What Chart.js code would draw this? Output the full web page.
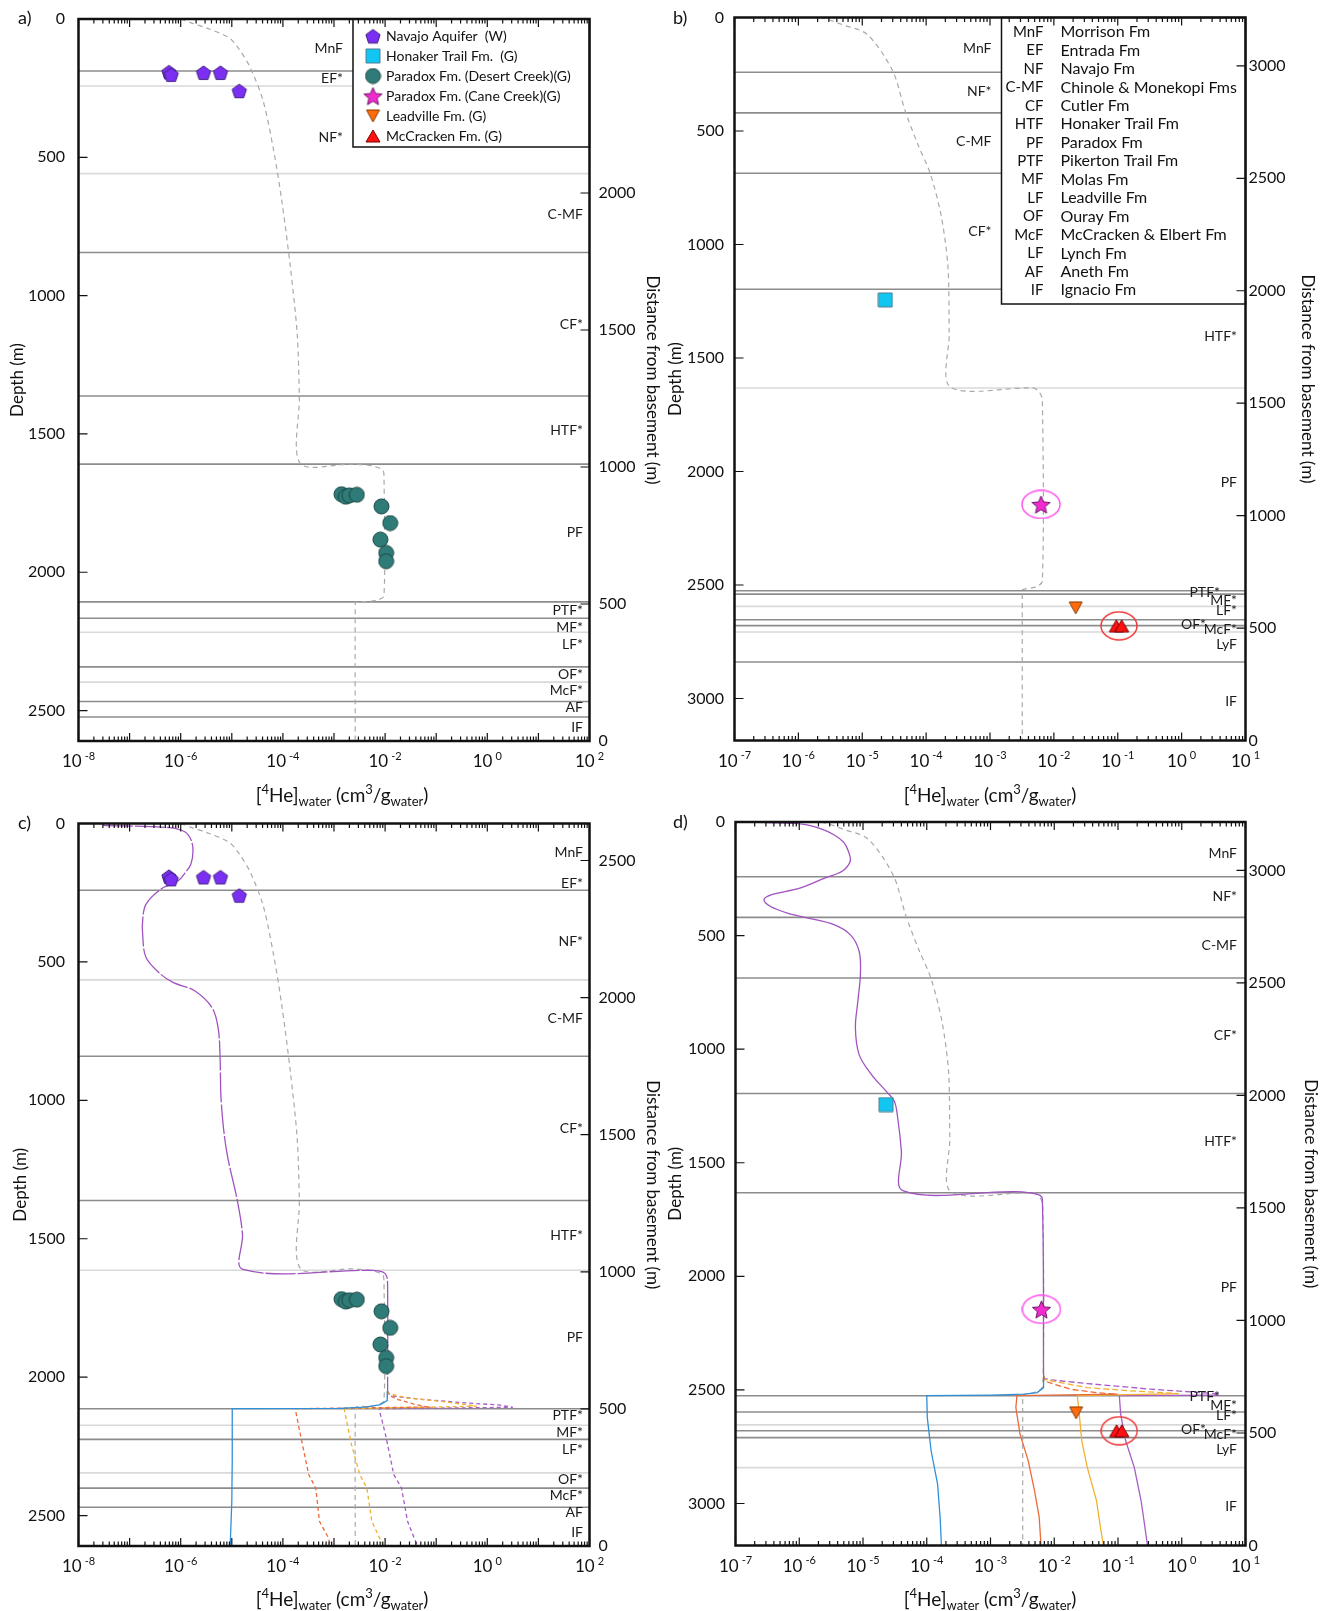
<!DOCTYPE html>
<html>
<head>
<meta charset="utf-8">
<title>4He depth profiles</title>
<script src="https://cdn.jsdelivr.net/npm/chart.js@4.4.1/dist/chart.umd.min.js"></script>
<style>
  html, body { margin: 0; padding: 0; background: #fff; }
  body { position: relative; width: 1328px; height: 1611px; overflow: hidden; font-family: Lato, "Liberation Sans", sans-serif; color: #111; }
  .panel { position: absolute; }
  .tag { position: absolute; font-size: 18px; line-height: 20px; transform: translateY(-50%); }
  .xtitle { position: absolute; font-size: 19px; line-height: 1; white-space: nowrap; transform: translate(-50%, -50%); }
  .xtitle sub, .xtitle sup { font-size: 13px; line-height: 0; }
</style>
</head>
<body>
<canvas id="ca" class="panel" width="664" height="800" style="left:0;top:0"></canvas>
<canvas id="cb" class="panel" width="664" height="800" style="left:664px;top:0"></canvas>
<canvas id="cc" class="panel" width="664" height="811" style="left:0;top:800px"></canvas>
<canvas id="cd" class="panel" width="664" height="811" style="left:664px;top:800px"></canvas>

<div class="tag" style="left:18px;top:17px">a)</div>
<div class="tag" style="left:673px;top:17px">b)</div>
<div class="tag" style="left:18px;top:822px">c)</div>
<div class="tag" style="left:673px;top:821px">d)</div>

<div class="xtitle" style="left:342px;top:794px">[<sup>4</sup>He]<sub>water</sub> (cm<sup>3</sup>/g<sub>water</sub>)</div>
<div class="xtitle" style="left:990px;top:794px">[<sup>4</sup>He]<sub>water</sub> (cm<sup>3</sup>/g<sub>water</sub>)</div>
<div class="xtitle" style="left:342px;top:1598px">[<sup>4</sup>He]<sub>water</sub> (cm<sup>3</sup>/g<sub>water</sub>)</div>
<div class="xtitle" style="left:990px;top:1598px">[<sup>4</sup>He]<sub>water</sub> (cm<sup>3</sup>/g<sub>water</sub>)</div>

<script>
// Depth profiles of [4He]water, four panels, log x / depth y

// ---- axes ----
const AC_DEPTH_MAX = 2610;
const AC_BASEMENT = 2635;
const BD_DEPTH_MAX = 3185;
const BD_BASEMENT = 3215;
const AC_X_EXP = [-8, -6, -4, -2, 0, 2];
const BD_X_EXP = [-7, -6, -5, -4, -3, -2, -1, 0, 1];
const AC_LEFT_TICKS = [0, 500, 1000, 1500, 2000, 2500];
const BD_LEFT_TICKS = [0, 500, 1000, 1500, 2000, 2500, 3000];
const A_RIGHT_TICKS = [0, 500, 1000, 1500, 2000];
const C_RIGHT_TICKS = [0, 500, 1000, 1500, 2000, 2500];
const BD_RIGHT_TICKS = [0, 500, 1000, 1500, 2000, 2500, 3000];

// ---- formation contacts (depth, m) ----
const A_CONTACTS = [188, 844, 1363, 1609, 2107, 2166, 2342, 2467, 2523];
const A_FAINT = [242, 559, 2217, 2397];
const C_CONTACTS = [241, 841, 1362, 2114, 2225, 2401, 2470];
const C_FAINT = [565, 1614, 2174, 2346];
const B_CONTACTS = [241, 420, 686, 1197, 2525, 2540, 2653, 2679, 2839];
const B_FAINT = [1632, 2594, 2707];
const D_CONTACTS = [241, 420, 687, 1195, 1632, 2526, 2597, 2680, 2710];
const D_FAINT = [2654, 2842];

const AC_LABELS = ['MnF', 'EF*', 'NF*', 'C-MF', 'CF*', 'HTF*', 'PF', 'PTF*', 'MF*', 'LF*', 'OF*', 'McF*', 'AF', 'IF'];
const AC_LABEL_DEPTHS = [106, 215, 427, 705, 1103, 1488, 1857, 2139, 2201, 2262, 2369, 2429, 2489, 2562];
const BD_LABELS = ['MnF', 'NF*', 'C-MF', 'CF*', 'HTF*', 'PF', 'PTF*', 'MF*', 'LF*', 'OF*', 'McF*', 'LyF', 'IF'];
const BD_LABEL_DEPTHS = [137, 326, 545, 941, 1405, 2048, 2531, 2567, 2613, 2676, 2695, 2762, 3015];

const FORMATION_ABBR = ['MnF', 'EF', 'NF', 'C-MF', 'CF', 'HTF', 'PF', 'PTF', 'MF', 'LF', 'OF', 'McF', 'LF', 'AF', 'IF'];
const FORMATION_NAMES = ['Morrison Fm', 'Entrada Fm', 'Navajo Fm', 'Chinole & Monekopi Fms', 'Cutler Fm',
  'Honaker Trail Fm', 'Paradox Fm', 'Pikerton Trail Fm', 'Molas Fm', 'Leadville Fm', 'Ouray Fm',
  'McCracken & Elbert Fm', 'Lynch Fm', 'Aneth Fm', 'Ignacio Fm'];
const SAMPLE_NAMES = ['Navajo Aquifer  (W)', 'Honaker Trail Fm.  (G)', 'Paradox Fm. (Desert Creek)(G)',
  'Paradox Fm. (Cane Creek)(G)', 'Leadville Fm. (G)', 'McCracken Fm. (G)'];

// ---- samples ----
const NAVAJO_HE = [5.9e-7, 6.5e-7, 2.8e-6, 6.0e-6, 1.4e-5];
const NAVAJO_DEPTH = [191, 200, 193, 193, 259];
const DESERT_CREEK_HE = [1.4e-3, 1.7e-3, 2.0e-3, 2.8e-3, 8.5e-3, 1.26e-2, 8.1e-3, 1.05e-2, 1.05e-2];
const DESERT_CREEK_DEPTH = [1718, 1727, 1722, 1720, 1762, 1822, 1882, 1930, 1960];
const HONAKER_HE = [2.3e-5];
const HONAKER_DEPTH = [1244];
const CANE_CREEK_HE = [6.3e-3];
const CANE_CREEK_DEPTH = [2145];
const LEADVILLE_HE = [2.2e-2];
const LEADVILLE_DEPTH = [2601];
const MCCRACKEN_HE = [0.095, 0.115];
const MCCRACKEN_DEPTH = [2680, 2680];

// ---- modelled profiles ----
const MODEL_AC_DEPTH = [0, 14, 35, 68, 110, 176, 296, 476, 656, 897, 1136, 1365, 1607, 1609, 1616, 1630, 1650, 2085, 2100, 2106, 2108, 2130, 2610];
const MODEL_AC_HE = [1.0e-6, 1.6e-6, 3.5e-6, 8.9e-6, 1.4e-5, 2.3e-5, 4.1e-5, 6.6e-5, 9.5e-5, 1.4e-4, 1.9e-4, 2.1e-4, 2.2e-4, 2.2e-3, 5.6e-3, 8.9e-3, 9.5e-3, 9.5e-3, 7.1e-3, 4.5e-3, 2.7e-3, 2.6e-3, 2.6e-3];
const MODEL_BD_DEPTH = [0, 10, 31, 75, 236, 412, 558, 690, 881, 1101, 1393, 1628, 1632, 1650, 1686, 2484, 2508, 2518, 2522, 2540, 3185];
const MODEL_BD_HE = [2.2e-6, 3.0e-6, 4.8e-6, 1.2e-5, 3.0e-5, 4.7e-5, 7.4e-5, 1.17e-4, 1.74e-4, 2.2e-4, 2.3e-4, 2.4e-4, 4.7e-3, 5.9e-3, 6.6e-3, 6.6e-3, 5.2e-3, 3.5e-3, 3.2e-3, 3.2e-3, 3.2e-3];

const C_MAIN_DEPTH = [7, 15, 30, 60, 99, 147, 180, 207, 237, 291, 350, 400, 484, 545, 575, 605, 665, 738, 846, 1003, 1183, 1364, 1484, 1611, 1614, 1620, 1635, 1680, 2051];
const C_MAIN_HE = [3.0e-8, 6.0e-7, 1.2e-6, 1.6e-6, 1.74e-6, 1.58e-6, 1.2e-6, 8.9e-7, 4.1e-7, 2.1e-7, 1.8e-7, 1.8e-7, 2.1e-7, 4.1e-7, 7.2e-7, 1.9e-6, 4.1e-6, 5.4e-6, 5.9e-6, 6.2e-6, 7.9e-6, 1.29e-5, 1.62e-5, 1.66e-5, 5.8e-3, 8.9e-3, 1.07e-2, 1.12e-2, 1.12e-2];
const C_BLUE_DEPTH = [2051, 2085, 2100, 2108, 2113, 2114, 2300, 2450, 2610];
const C_BLUE_HE = [1.12e-2, 1.1e-2, 7.9e-3, 4.0e-3, 1.26e-3, 1.02e-5, 1.02e-5, 1.0e-5, 9.3e-6];
const C_ORANGE_DEPTH = [2051, 2063, 2081, 2099, 2108, 2114, 2208, 2352, 2401, 2521, 2581, 2610];
const C_ORANGE_HE = [1.12e-2, 1.12e-2, 1.8e-2, 3.9e-2, 6.9e-2, 1.74e-4, 2.2e-4, 3.2e-4, 4.4e-4, 5.2e-4, 7.8e-4, 8.5e-4];
const C_YELLOW_DEPTH = [2051, 2057, 2075, 2089, 2105, 2114, 2244, 2352, 2401, 2521, 2581, 2610];
const C_YELLOW_HE = [1.12e-2, 1.12e-2, 2.6e-2, 0.148, 0.62, 1.58e-3, 2.2e-3, 3.2e-3, 4.4e-3, 5.5e-3, 7.8e-3, 9.3e-3];
const C_PURPLE_DEPTH = [2051, 2060, 2069, 2081, 2093, 2101, 2109, 2114, 2208, 2352, 2401, 2521, 2581, 2610];
const C_PURPLE_HE = [1.12e-2, 1.2e-2, 1.48e-2, 5.8e-2, 0.38, 1.78, 3.16, 7.6e-3, 1.02e-2, 1.48e-2, 2.1e-2, 2.75e-2, 3.7e-2, 4.3e-2];

const D_MAIN_DEPTH = [0, 3, 10, 30, 56, 90, 129, 173, 217, 247, 291, 320, 342, 371, 401, 423, 452, 496, 569, 672, 789, 907, 1024, 1111, 1185, 1229, 1302, 1449, 1624, 1627, 1640, 1660, 2438];
const D_MAIN_HE = [1.0e-7, 3.2e-7, 1.17e-6, 2.2e-6, 3.5e-6, 5.0e-6, 5.9e-6, 6.3e-6, 4.7e-6, 2.5e-6, 1.02e-6, 3.7e-7, 2.8e-7, 3.5e-7, 6.5e-7, 1.38e-6, 3.5e-6, 6.3e-6, 8.7e-6, 9.1e-6, 8.3e-6, 7.6e-6, 8.7e-6, 1.35e-5, 2.3e-5, 3.1e-5, 3.5e-5, 4.0e-5, 4.3e-5, 2.5e-3, 5.6e-3, 6.5e-3, 6.8e-3];
const D_BLUE_DEPTH = [2438, 2490, 2512, 2519, 2523, 2525, 2622, 2768, 2915, 3062, 3185];
const D_BLUE_HE = [6.8e-3, 6.8e-3, 5.4e-3, 3.4e-3, 1.0e-3, 1.0e-4, 1.02e-4, 1.17e-4, 1.48e-4, 1.62e-4, 1.7e-4];
const D_ORANGE_DEPTH = [2438, 2460, 2475, 2497, 2512, 2519, 2525, 2577, 2694, 2811, 2943, 3060, 3185];
const D_ORANGE_HE = [6.8e-3, 6.9e-3, 1.0e-2, 1.8e-2, 4.6e-2, 9.8e-2, 2.6e-3, 2.5e-3, 2.9e-3, 3.9e-3, 4.9e-3, 5.8e-3, 6.2e-3];
const D_YELLOW_DEPTH = [2438, 2455, 2468, 2490, 2504, 2516, 2525, 2622, 2724, 2841, 2987, 3090, 3185];
const D_YELLOW_HE = [6.8e-3, 7.2e-3, 1.26e-2, 3.3e-2, 0.155, 0.89, 2.3e-2, 2.5e-2, 2.7e-2, 3.3e-2, 4.6e-2, 5.2e-2, 5.9e-2];
const D_PURPLE_DEPTH = [2438, 2450, 2456, 2472, 2497, 2516, 2523, 2525, 2606, 2724, 2841, 2987, 3090, 3185];
const D_PURPLE_HE = [6.8e-3, 7.1e-3, 8.9e-3, 3.3e-2, 0.33, 3.3, 3.8, 0.105, 0.11, 0.132, 0.18, 0.23, 0.26, 0.29];
const D_TAIL_BASE = 2524;   // Paradox base: tails above it are dashed

const COLORS = {
  model: '#a9a9a9',
  main: '#a052c0',
  blue: '#2f8fd8',
  orange: '#ec6a3a',
  yellow: '#f2b02e',
  purple: '#a75cc6',
  contact: '#8c8c8c',
  faint: '#d9d9d9',
};

Chart.defaults.font.family = 'Lato, "Liberation Sans", sans-serif';
Chart.defaults.color = '#111';

// marker glyphs drawn once on small canvases, used as pointStyle
function shape(kind, w, h, fill, stroke) {
  const c = document.createElement('canvas');
  c.width = w; c.height = h;
  const g = c.getContext('2d');
  const cx = w / 2, cy = h / 2, r = Math.min(w, h) / 2 - 1;
  g.beginPath();
  if (kind === 'pentagon' || kind === 'star') {
    const n = kind === 'star' ? 10 : 5;
    for (let i = 0; i < n; i++) {
      const rr = kind === 'star' && i % 2 ? r * 0.45 : r;
      const t = -Math.PI / 2 + i * 2 * Math.PI / n;
      g.lineTo(cx + rr * Math.cos(t), cy + 1 + rr * Math.sin(t));
    }
  } else if (kind === 'circle') {
    g.arc(cx, cy, r, 0, 2 * Math.PI);
  } else if (kind === 'square') {
    g.rect(1, 1, w - 2, h - 2);
  } else if (kind === 'up') {
    g.moveTo(cx, 1); g.lineTo(w - 1, h - 1); g.lineTo(1, h - 1);
  } else if (kind === 'down') {
    g.moveTo(1, 1); g.lineTo(w - 1, 1); g.lineTo(cx, h - 1);
  } else if (kind === 'ring') {
    g.ellipse(cx, cy, w / 2 - 1, h / 2 - 1, 0, 0, 2 * Math.PI);
  }
  g.closePath();
  if (fill) { g.fillStyle = fill; g.fill(); }
  g.lineWidth = kind === 'ring' ? 1.5 : 1;
  g.strokeStyle = stroke;
  g.stroke();
  return c;
}

const MARK = {
  navajo: shape('pentagon', 18, 17, '#7b2ff2', '#40207e'),
  honaker: shape('square', 16, 16, '#12c6f2', '#4f7f90'),
  desert: shape('circle', 17, 17, '#2f7b77', '#1b4644'),
  cane: shape('star', 21, 21, '#f22bd0', '#6d1466'),
  leadville: shape('down', 15, 14, '#ff6b0d', '#8a3900'),
  mccracken: shape('up', 16, 14, '#ff1111', '#7a0000'),
  caneRing: shape('ring', 40, 30, null, '#ff55ee'),
  mcRing: shape('ring', 38, 30, null, '#f23a3a'),
};
const SAMPLE_MARKS = [MARK.navajo, MARK.honaker, MARK.desert, MARK.cane, MARK.leadville, MARK.mccracken];

const pts = (he, depth) => he.map((v, i) => ({ x: v, y: depth[i] }));

function markers(label, he, depth, img) {
  return { label, data: pts(he, depth), pointStyle: img, pointRadius: 9, showLine: false };
}

function curve(label, he, depth, color, opts = {}) {
  return {
    label,
    data: pts(he, depth),
    showLine: true,
    pointRadius: 0,
    borderColor: color,
    borderWidth: opts.width || 1.3,
    borderDash: opts.dash || [],
    tension: opts.tension || 0,
    segment: opts.segment,
  };
}

const modelAC = () => curve('model', MODEL_AC_HE, MODEL_AC_DEPTH, COLORS.model, { dash: [5, 4], width: 1.2, tension: 0.3 });
const modelBD = () => curve('model', MODEL_BD_HE, MODEL_BD_DEPTH, COLORS.model, { dash: [5, 4], width: 1.2, tension: 0.3 });
const mcCenter = [Math.sqrt(MCCRACKEN_HE[0] * MCCRACKEN_HE[1])];
const dTail = { borderDash: ctx => (ctx.p1.parsed.y <= D_TAIL_BASE ? [6, 3] : undefined) };

const bdSamples = () => [
  markers('Honaker Trail', HONAKER_HE, HONAKER_DEPTH, MARK.honaker),
  markers('Cane Creek', CANE_CREEK_HE, CANE_CREEK_DEPTH, MARK.cane),
  markers('Leadville', LEADVILLE_HE, LEADVILLE_DEPTH, MARK.leadville),
  markers('McCracken', MCCRACKEN_HE, MCCRACKEN_DEPTH, MARK.mccracken),
  markers('Cane Creek ring', CANE_CREEK_HE, CANE_CREEK_DEPTH, MARK.caneRing),
  markers('McCracken ring', mcCenter, [MCCRACKEN_DEPTH[0]], MARK.mcRing),
];

const PANELS = {
  ca: {
    size: [664, 800], area: { left: 78.5, right: 589.5, top: 19, bottom: 741 },
    xMin: 1e-8, xMax: 1e2, xExp: AC_X_EXP, depthMax: AC_DEPTH_MAX, basement: AC_BASEMENT,
    leftTicks: AC_LEFT_TICKS, rightTicks: A_RIGHT_TICKS, contacts: A_CONTACTS, faint: A_FAINT,
    labels: AC_LABELS, labelDepths: AC_LABEL_DEPTHS, labelInset: 6.5, nudge: {},
    tickPad: [13.5, 9], titlePad: [7, 1],
    legend: { kind: 'samples', width: 236.5, height: 128 },
    datasets: [
      markers('Navajo Aquifer', NAVAJO_HE, NAVAJO_DEPTH, MARK.navajo),
      markers('Desert Creek', DESERT_CREEK_HE, DESERT_CREEK_DEPTH, MARK.desert),
      modelAC(),
    ],
  },
  cb: {
    size: [664, 800], area: { left: 70.5, right: 581.5, top: 17.5, bottom: 740.5 },
    xMin: 1e-7, xMax: 1e1, xExp: BD_X_EXP, depthMax: BD_DEPTH_MAX, basement: BD_BASEMENT,
    leftTicks: BD_LEFT_TICKS, rightTicks: BD_RIGHT_TICKS, contacts: B_CONTACTS, faint: B_FAINT,
    labels: BD_LABELS, labelDepths: BD_LABEL_DEPTHS, labelInset: 8.5, nudge: { 'PTF*': -17, 'OF*': -31 },
    tickPad: [10.5, 3], titlePad: [1.5, 10],
    legend: { kind: 'formations', width: 244, height: 286.5 },
    datasets: [...bdSamples(), modelBD()],
  },
  cc: {
    size: [664, 811], area: { left: 78.5, right: 589.5, top: 23.5, bottom: 746 },
    xMin: 1e-8, xMax: 1e2, xExp: AC_X_EXP, depthMax: AC_DEPTH_MAX, basement: AC_BASEMENT,
    leftTicks: AC_LEFT_TICKS, rightTicks: C_RIGHT_TICKS, contacts: C_CONTACTS, faint: C_FAINT,
    labels: AC_LABELS, labelDepths: AC_LABEL_DEPTHS, labelInset: 6.5, nudge: {},
    tickPad: [13.5, 9], titlePad: [10, 1],
    legend: null,
    datasets: [
      markers('Navajo Aquifer', NAVAJO_HE, NAVAJO_DEPTH, MARK.navajo),
      markers('Desert Creek', DESERT_CREEK_HE, DESERT_CREEK_DEPTH, MARK.desert),
      curve('model c', C_MAIN_HE, C_MAIN_DEPTH, COLORS.main, { dash: [30, 2], tension: 0.35 }),
      curve('scenario 1', C_BLUE_HE, C_BLUE_DEPTH, COLORS.blue),
      curve('scenario 2', C_ORANGE_HE, C_ORANGE_DEPTH, COLORS.orange, { dash: [4, 3] }),
      curve('scenario 3', C_YELLOW_HE, C_YELLOW_DEPTH, COLORS.yellow, { dash: [4, 3] }),
      curve('scenario 4', C_PURPLE_HE, C_PURPLE_DEPTH, COLORS.purple, { dash: [4, 3] }),
      modelAC(),
    ],
  },
  cd: {
    size: [664, 811], area: { left: 71.5, right: 581.5, top: 22, bottom: 745.5 },
    xMin: 1e-7, xMax: 1e1, xExp: BD_X_EXP, depthMax: BD_DEPTH_MAX, basement: BD_BASEMENT,
    leftTicks: BD_LEFT_TICKS, rightTicks: BD_RIGHT_TICKS, contacts: D_CONTACTS, faint: D_FAINT,
    labels: BD_LABELS, labelDepths: BD_LABEL_DEPTHS, labelInset: 8.5, nudge: { 'PTF*': -17, 'OF*': -31 },
    tickPad: [10.5, 3], titlePad: [1.5, 7],
    legend: null,
    datasets: [
      ...bdSamples(),
      curve('model d', D_MAIN_HE, D_MAIN_DEPTH, COLORS.main, { tension: 0.35 }),
      curve('scenario 1', D_BLUE_HE, D_BLUE_DEPTH, COLORS.blue),
      curve('scenario 2', D_ORANGE_HE, D_ORANGE_DEPTH, COLORS.orange, { segment: dTail }),
      curve('scenario 3', D_YELLOW_HE, D_YELLOW_DEPTH, COLORS.yellow, { segment: dTail }),
      curve('scenario 4', D_PURPLE_HE, D_PURPLE_DEPTH, COLORS.purple, { segment: dTail }),
      modelBD(),
    ],
  },
};

function legendBox(chart, p) {
  const a = chart.chartArea;
  return { l: a.right - p.legend.width, t: a.top, r: a.right, b: a.top + p.legend.height };
}

function drawLegend(chart, p) {
  const ctx = chart.ctx;
  const box = legendBox(chart, p);
  ctx.save();
  ctx.fillStyle = '#fff';
  ctx.fillRect(box.l, box.t, box.r - box.l, box.b - box.t);
  ctx.lineWidth = 1.5;
  ctx.strokeStyle = '#111';
  ctx.strokeRect(box.l, box.t, box.r - box.l, box.b - box.t);
  ctx.fillStyle = '#111';
  ctx.textBaseline = 'middle';
  if (p.legend.kind === 'samples') {
    ctx.font = '14px Lato';
    ctx.textAlign = 'left';
    SAMPLE_NAMES.forEach((name, i) => {
      const yy = box.t + 17 + i * 20;
      const img = SAMPLE_MARKS[i];
      ctx.drawImage(img, box.l + 20 - img.width / 2, yy - img.height / 2);
      ctx.fillText(name, box.l + 33, yy);
    });
  } else {
    FORMATION_ABBR.forEach((ab, i) => {
      const yy = box.t + 14.5 + i * 18.45;
      ctx.font = '15px Lato';
      ctx.textAlign = 'right';
      ctx.fillText(ab, box.l + 42, yy);
      ctx.font = '16px Lato';
      ctx.textAlign = 'left';
      ctx.fillText(FORMATION_NAMES[i], box.l + 59, yy);
    });
  }
  ctx.restore();
}

function drawFormationLabels(chart, p) {
  const { ctx, chartArea: a, scales: { y } } = chart;
  const box = p.legend ? legendBox(chart, p) : null;
  ctx.save();
  ctx.font = '14px Lato';
  ctx.fillStyle = '#1b1b1b';
  ctx.textAlign = 'right';
  ctx.textBaseline = 'middle';
  p.labels.forEach((name, i) => {
    const py = y.getPixelForValue(p.labelDepths[i]);
    let px = a.right - p.labelInset;
    if (box && py < box.b) px = box.l - 10;
    px += p.nudge[name] || 0;
    ctx.fillText(name, px, py);
  });
  ctx.restore();
}

function drawFrame(chart) {
  const { ctx, chartArea: a, scales: { x, y, y2 } } = chart;
  ctx.save();
  ctx.strokeStyle = '#111';
  ctx.lineWidth = 1.2;
  ctx.beginPath();
  const e0 = Math.round(Math.log10(x.min)), e1 = Math.round(Math.log10(x.max));
  for (let e = e0; e <= e1; e++) {
    for (let k = 1; k <= 9; k++) {
      if (e === e1 && k > 1) break;
      const px = x.getPixelForValue(k * Math.pow(10, e));
      const len = k === 1 ? 8 : 4.5;
      ctx.moveTo(px, a.bottom); ctx.lineTo(px, a.bottom - len);
      ctx.moveTo(px, a.top); ctx.lineTo(px, a.top + len);
    }
  }
  y.ticks.forEach(t => {
    const py = y.getPixelForValue(t.value);
    ctx.moveTo(a.left, py); ctx.lineTo(a.left + 9, py);
  });
  y2.ticks.forEach(t => {
    const py = y2.getPixelForValue(t.value);
    ctx.moveTo(a.right - 9, py); ctx.lineTo(a.right, py);
  });
  ctx.stroke();
  ctx.lineWidth = 2.5;
  ctx.strokeRect(a.left, a.top, a.right - a.left, a.bottom - a.top);
  ctx.restore();
}

function drawXLabels(chart, exps) {
  const { ctx, chartArea: a, scales: { x } } = chart;
  ctx.save();
  ctx.fillStyle = '#111';
  ctx.textBaseline = 'middle';
  ctx.textAlign = 'left';
  exps.forEach(e => {
    const px = x.getPixelForValue(Math.pow(10, e));
    const sup = String(e);
    ctx.font = '17px Lato';
    const w1 = ctx.measureText('10').width;
    ctx.font = '11px Lato';
    const w2 = ctx.measureText(sup).width;
    const left = px - (w1 + 3 + w2) / 2;
    ctx.font = '17px Lato';
    ctx.fillText('10', left, a.bottom + 21);
    ctx.font = '11px Lato';
    ctx.fillText(sup, left + w1 + 3, a.bottom + 15);
  });
  ctx.restore();
}

const profilePlugin = {
  id: 'profile',
  beforeDatasetsDraw(chart) {
    const p = PANELS[chart.canvas.id];
    const { ctx, chartArea: a, scales: { y } } = chart;
    ctx.save();
    ctx.lineWidth = 1.6;
    [[p.faint, COLORS.faint], [p.contacts, COLORS.contact]].forEach(([list, color]) => {
      ctx.strokeStyle = color;
      list.forEach(d => {
        const py = y.getPixelForValue(d);
        ctx.beginPath();
        ctx.moveTo(a.left, py);
        ctx.lineTo(a.right, py);
        ctx.stroke();
      });
    });
    ctx.restore();
  },
  afterDatasetsDraw(chart) {
    const p = PANELS[chart.canvas.id];
    if (p.legend) drawLegend(chart, p);
    drawFormationLabels(chart, p);
  },
  afterDraw(chart) {
    const p = PANELS[chart.canvas.id];
    drawFrame(chart);
    drawXLabels(chart, p.xExp);
  },
};

// fixed box sizes; drop the label overhang padding so the plot area lands where wanted
function pinBox(s, size) {
  if (s.isHorizontal()) s.height = size; else s.width = size;
  s.paddingTop = 0; s.paddingBottom = 0; s.paddingLeft = 0; s.paddingRight = 0;
}

function buildPanel(id) {
  const p = PANELS[id];
  const [W, H] = p.size;
  const g = p.area;
  const flat = { display: false, drawTicks: false };
  return new Chart(document.getElementById(id), {
    type: 'scatter',
    data: { datasets: p.datasets },
    options: {
      responsive: false,
      animation: false,
      events: [],
      layout: { autoPadding: false, padding: { top: g.top, right: 0, bottom: 0, left: 0 } },
      plugins: { legend: { display: false }, tooltip: { enabled: false } },
      scales: {
        x: {
          type: 'logarithmic', min: p.xMin, max: p.xMax,
          ticks: { display: false }, grid: flat, border: { display: false },
          afterFit: s => pinBox(s, H - g.bottom),
        },
        y: {
          type: 'linear', position: 'left', reverse: true, min: 0, max: p.depthMax,
          afterBuildTicks: s => { s.ticks = p.leftTicks.map(v => ({ value: v })); },
          ticks: { padding: p.tickPad[0], font: { size: 16 }, color: '#111', callback: v => String(v) },
          grid: flat, border: { display: false },
          title: { display: true, text: 'Depth (m)', font: { size: 17 }, color: '#111', padding: { top: p.titlePad[0], bottom: 0 } },
          afterFit: s => pinBox(s, g.left),
        },
        y2: {
          type: 'linear', position: 'right', min: 0, max: p.basement,
          afterBuildTicks: s => { s.ticks = p.rightTicks.map(v => ({ value: v })); },
          ticks: { padding: p.tickPad[1], font: { size: 16 }, color: '#111', callback: v => String(v) },
          grid: flat, border: { display: false },
          title: { display: true, text: 'Distance from basement (m)', font: { size: 17 }, color: '#111', padding: { top: p.titlePad[1], bottom: 0 } },
          afterFit: s => pinBox(s, W - g.right),
        },
      },
    },
    plugins: [profilePlugin],
  });
}

['ca', 'cb', 'cc', 'cd'].forEach(buildPanel);
</script>
</body>
</html>
